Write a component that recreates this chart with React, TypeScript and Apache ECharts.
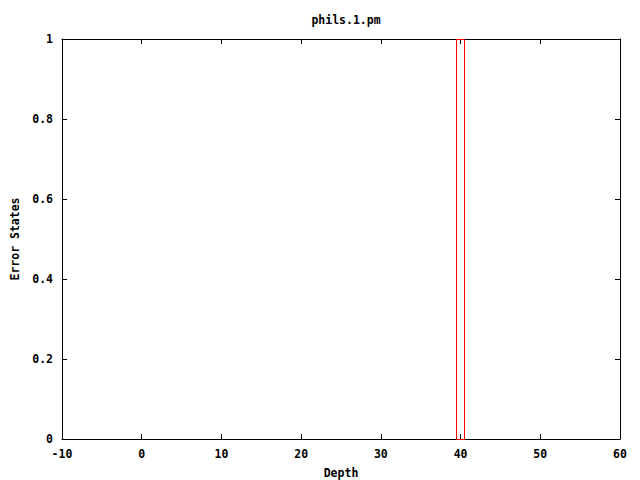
import React, { useEffect, useRef } from "react";
import * as echarts from "echarts";

const title = "phils.1.pm";
const xName = "Depth";
const yName = "Error States";
const depth = [40];
const errorStates = [1];
const boxWidth = 1;
const xRange = [-10, 60];
const yRange = [0, 1];

const font = "'DejaVu Sans Mono', 'Liberation Mono', monospace";

export default function App() {
  const ref = useRef<HTMLDivElement>(null);
  useEffect(() => {
    const chart = echarts.init(ref.current!, null, { renderer: "svg" });
    const labelStyle = { color: "#000", fontFamily: font, fontWeight: "bold" as const, fontSize: 11.5 };
    const axisLine = { show: true, onZero: false, lineStyle: { color: "#000", width: 1 } };
    const axisTick = { show: true, inside: true, length: 5, lineStyle: { color: "#000", width: 1 } };
    chart.setOption({
      animation: false,
      backgroundColor: "#fff",
      title: {
        text: title,
        left: 341,
        top: 9,
        textAlign: "center",
        textStyle: labelStyle,
      },
      grid: { left: 62, right: 20, top: 39, bottom: 41, containLabel: false, outerBoundsMode: "none" },
      xAxis: [
        {
          type: "value",
          min: xRange[0],
          max: xRange[1],
          interval: 10,
          position: "bottom",
          axisLine,
          axisTick,
          splitLine: { show: false },
          axisLabel: { ...labelStyle, margin: 9 },
          name: xName,
          nameLocation: "middle",
          nameGap: 28,
          nameTextStyle: labelStyle,
        },
        {
          type: "value",
          min: xRange[0],
          max: xRange[1],
          interval: 10,
          position: "top",
          axisLine,
          axisTick,
          splitLine: { show: false },
          axisLabel: { show: false },
        },
      ],
      yAxis: [
        {
          type: "value",
          min: yRange[0],
          max: yRange[1],
          interval: 0.2,
          position: "left",
          axisLine,
          axisTick,
          splitLine: { show: false },
          axisLabel: {
            ...labelStyle,
            margin: 9,
            formatter: (v: number) => (v === 0 || v === 1 ? String(v) : v.toFixed(1)),
          },
          name: yName,
          nameLocation: "middle",
          nameGap: 41,
          nameRotate: 90,
          nameTextStyle: labelStyle,
        },
        {
          type: "value",
          min: yRange[0],
          max: yRange[1],
          interval: 0.2,
          position: "right",
          axisLine,
          axisTick,
          splitLine: { show: false },
          axisLabel: { show: false },
        },
      ],
      series: [
        {
          type: "custom",
          xAxisIndex: 0,
          yAxisIndex: 0,
          itemStyle: { color: "#ff0000", borderColor: "#ff0000" },
          data: depth.map((d, i) => [d, errorStates[i]]),
          renderItem: (params: any, api: any) => {
            const x = api.value(0);
            const y = api.value(1);
            const p0 = api.coord([x - boxWidth / 2, 0]);
            const p1 = api.coord([x + boxWidth / 2, y]);
            return {
              type: "rect",
              shape: {
                x: Math.floor(p0[0]) + 0.5,
                y: Math.round(p1[1]) + 0.5,
                width: Math.round(p1[0] - p0[0]),
                height: Math.round(p0[1] - p1[1]),
              },
              style: { fill: "none", stroke: "#ff0000", lineWidth: 1, opacity: 1 },
            };
          },
          z: 10,
        },
      ],
    });
    return () => chart.dispose();
  }, []);
  return (
    <div
      ref={ref}
      style={{ position: "absolute", left: 0, top: 0, width: 640, height: 480, background: "#fff" }}
    />
  );
}
